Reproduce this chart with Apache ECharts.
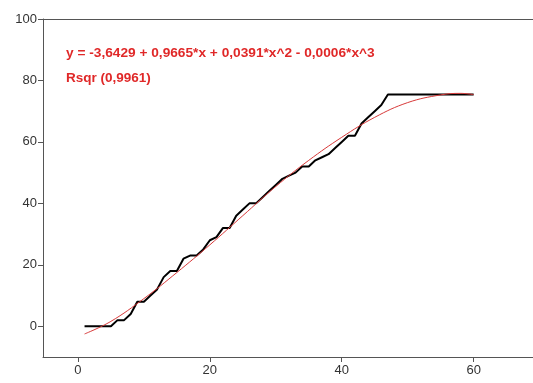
<!DOCTYPE html>
<html>
<head>
<meta charset="utf-8">
<script src="https://cdn.jsdelivr.net/npm/echarts@6/dist/echarts.min.js"></script>
<style>html,body{margin:0;padding:0;background:#fff;}#c{width:533px;height:383px;}</style>
</head>
<body>
<div id="c"></div>
<script>
var xObs = [1,2,3,4,5,6,7,8,9,10,11,12,13,14,15,16,17,18,19,20,21,22,23,24,25,26,27,28,29,30,31,32,33,34,35,36,37,38,39,40,41,42,43,44,45,46,47,48,49,50,51,52,53,54,55,56,57,58,59,60];
var yObs = [0,0,0,0,0,2,2,4,8,8,10,12,16,18,18,22,23,23,25,28,29,32,32,36,38,40,40,42,44,46,48,49,50,52,52,54,55,56,58,60,62,62,66,68,70,72,75.4,75.4,75.4,75.4,75.4,75.4,75.4,75.4,75.4,75.4,75.4,75.4,75.4,75.4];
var xFit = [1,5,10,15,20,25,30,35,40,45,50,55,58,60];
var yFit = [-2.5,1.6,9,17.5,26.5,36,45.5,54,61.5,68,72.8,75.3,75.8,75.4];
var xTicks = [0,20,40,60];
var yTicks = [0,20,40,60,80,100];
var eqText = 'y = -3,6429 + 0,9665*x + 0,0391*x^2 - 0,0006*x^3';
var rText = 'Rsqr (0,9961)';

var chart = echarts.init(document.getElementById('c'));
function pairs(xs, ys){ return xs.map(function(x,i){return [x, ys[i]];}); }
var axisCol = '#555';
chart.setOption({
  animation: false,
  backgroundColor: '#fff',
  grid: {left: 43, right: 0, top: 19, bottom: 26},
  xAxis: {
    type: 'value', min: -5.3, max: 69,
    axisLine: {show: true, onZero: false, lineStyle: {color: axisCol, width: 1}},
    axisTick: {show: true, length: 5, customValues: xTicks, lineStyle: {color: axisCol}},
    axisLabel: {customValues: xTicks, color: '#333', fontSize: 13, fontFamily: 'Liberation Sans, Arial', margin: 7},
    splitLine: {show: false}
  },
  yAxis: {
    type: 'value', min: -10, max: 100,
    axisLine: {show: true, onZero: false, lineStyle: {color: axisCol, width: 1}},
    axisTick: {show: true, length: 5, customValues: yTicks, lineStyle: {color: axisCol}},
    axisLabel: {customValues: yTicks, color: '#333', fontSize: 13, fontFamily: 'Liberation Sans, Arial', margin: 6},
    splitLine: {show: false}
  },
  graphic: [
    {type: 'line', shape: {x1: 43, y1: 19.5, x2: 533, y2: 19.5}, style: {stroke: axisCol, lineWidth: 1}},
    {type: 'text', left: 66, top: 46, style: {text: eqText, fill: '#e02828', font: 'bold 13.7px "Liberation Sans", Arial'}},
    {type: 'text', left: 66, top: 71, style: {text: rText, fill: '#e02828', font: 'bold 13.5px "Liberation Sans", Arial'}}
  ],
  series: [
    {type: 'line', data: pairs(xObs, yObs), showSymbol: false, lineStyle: {color: '#000', width: 2}, z: 2},
    {type: 'line', data: pairs(xFit, yFit), smooth: 0.4, showSymbol: false, lineStyle: {color: '#d83a3a', width: 1}, z: 3}
  ]
});
</script>
</body>
</html>
